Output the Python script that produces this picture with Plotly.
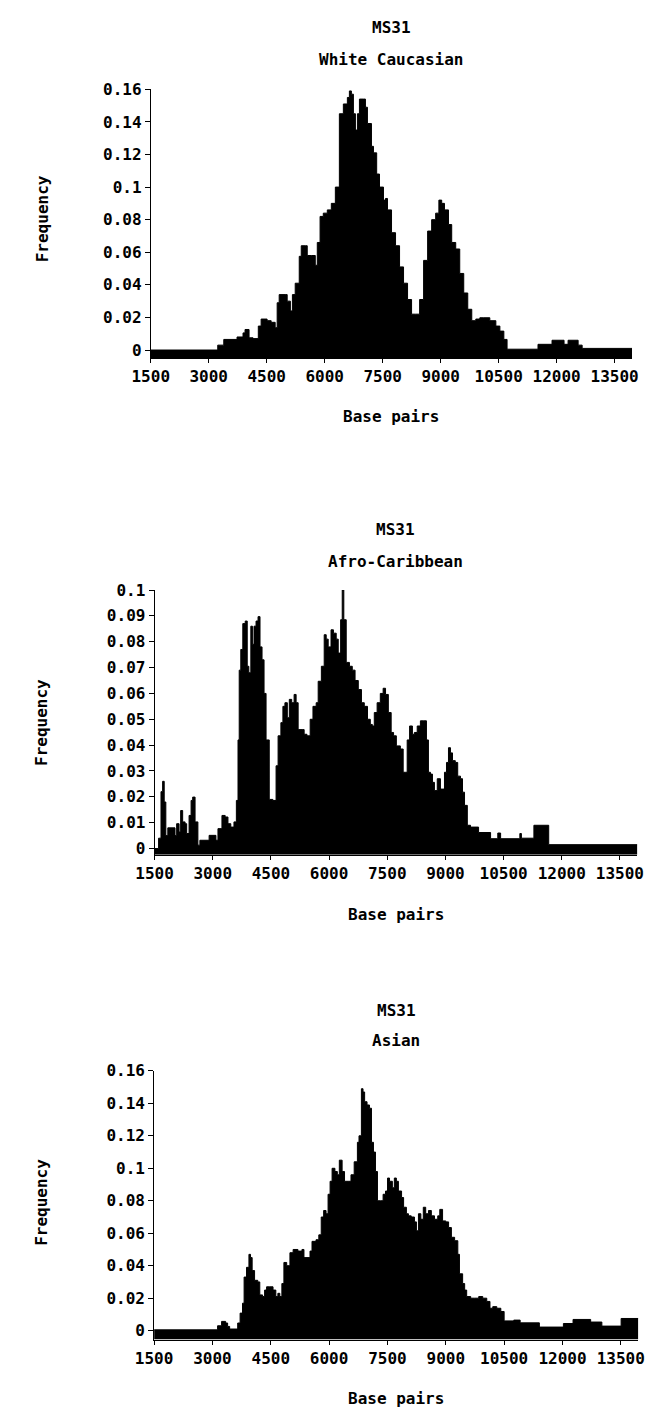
import plotly.graph_objects as go

# ---------------- data ----------------
x_ticks = [1500, 3000, 4500, 6000, 7500, 9000, 10500, 12000, 13500]
x_tick_labels = ["1500", "3000", "4500", "6000", "7500", "9000", "10500", "12000", "13500"]

titles = ["White Caucasian", "Afro-Caribbean", "Asian"]

wc_bp = [1500, 3233, 3389, 3732, 3887, 3939, 4043, 4147, 4282, 4355, 4510, 4614, 4718, 4770,
         4822, 4977, 5029, 5112, 5164, 5237, 5341, 5393, 5496, 5548, 5652, 5756, 5808, 5880,
         5963, 6067, 6171, 6275, 6379, 6482, 6586, 6638, 6690, 6742, 6794, 6846, 6898, 7001,
         7053, 7105, 7209, 7261, 7344, 7417, 7520, 7572, 7624, 7728, 7832, 7936, 8039, 8143,
         8247, 8351, 8455, 8558, 8662, 8766, 8870, 8953, 9026, 9098, 9202, 9285, 9389, 9493,
         9596, 9700, 9804, 9908, 10012, 10115, 10271, 10427, 10531, 10634, 10717, 11517,
         11880, 12191, 12295, 12555, 12659, 13950]
wc_freq = [0, 0.003, 0.0065, 0.008, 0.0105, 0.0126, 0.0075, 0.007, 0.0147, 0.019, 0.018, 0.017,
           0.0137, 0.029, 0.034, 0.034, 0.030, 0.024, 0.034, 0.041, 0.0575, 0.064, 0.064, 0.058,
           0.058, 0.052, 0.066, 0.082, 0.084, 0.086, 0.090, 0.100, 0.145, 0.151, 0.155, 0.159,
           0.157, 0.145, 0.135, 0.145, 0.154, 0.154, 0.149, 0.139, 0.125, 0.121, 0.108, 0.100,
           0.092, 0.093, 0.086, 0.072, 0.064, 0.051, 0.041, 0.031, 0.022, 0.022, 0.031, 0.055,
           0.073, 0.080, 0.084, 0.092, 0.090, 0.086, 0.077, 0.066, 0.062, 0.047, 0.035, 0.025,
           0.018, 0.019, 0.0198, 0.0198, 0.018, 0.0147, 0.0116, 0.0065, 0.0005, 0.0035, 0.006,
           0.0035, 0.006, 0.003, 0.001, 0.001]

ac_bp = [1500, 1603, 1665, 1707, 1748, 1790, 1841, 2027, 2069, 2131, 2172, 2224, 2286, 2327,
         2389, 2441, 2482, 2544, 2617, 2668, 2906, 3082, 3134, 3237, 3320, 3392, 3465, 3547,
         3609, 3651, 3682, 3723, 3775, 3837, 3889, 3930, 3982, 4023, 4064, 4116, 4168, 4219,
         4271, 4323, 4375, 4457, 4550, 4633, 4685, 4757, 4809, 4861, 4923, 4974, 5036, 5098,
         5150, 5202, 5305, 5357, 5429, 5512, 5584, 5667, 5719, 5801, 5874, 5926, 5977, 6050,
         6112, 6184, 6236, 6298, 6339, 6380, 6442, 6525, 6598, 6670, 6753, 6835, 6908, 6991,
         7063, 7115, 7166, 7239, 7321, 7394, 7456, 7528, 7601, 7663, 7735, 7838, 7911, 7973,
         8014, 8076, 8149, 8200, 8273, 8355, 8428, 8511, 8562, 8614, 8666, 8717, 8790, 8872,
         8924, 8976, 9028, 9079, 9131, 9183, 9255, 9317, 9389, 9441, 9493, 9565, 9648, 9855,
         10165, 10351, 10424, 10920, 10960, 11282, 11664, 13950]
ac_freq = [0, 0.004, 0.022, 0.026, 0.018, 0.005, 0.008, 0.005, 0.0096, 0.0064, 0.0147, 0.0103,
           0.0096, 0.0058, 0.0128, 0.0186, 0.0199, 0.0103, 0.0013, 0.0032, 0.0051, 0.0032,
           0.0077, 0.0128, 0.0122, 0.0096, 0.0083, 0.0103, 0.0186, 0.042, 0.069, 0.077, 0.087,
           0.088, 0.0705, 0.068, 0.086, 0.079, 0.086, 0.088, 0.0897, 0.078, 0.073, 0.060, 0.042,
           0.019, 0.0186, 0.032, 0.0436, 0.0487, 0.055, 0.0564, 0.0506, 0.0577, 0.0564, 0.0596,
           0.0564, 0.046, 0.046, 0.0442, 0.0436, 0.050, 0.055, 0.0564, 0.0647, 0.0705, 0.0827,
           0.081, 0.078, 0.0846, 0.0833, 0.081, 0.0756, 0.0885, 0.100, 0.0885, 0.072, 0.0705,
           0.069, 0.065, 0.0615, 0.0564, 0.055, 0.050, 0.048, 0.0474, 0.0526, 0.0564, 0.060,
           0.062, 0.0596, 0.0526, 0.0449, 0.0436, 0.0397, 0.0385, 0.0295, 0.0295, 0.042, 0.0474,
           0.0442, 0.0449, 0.0474, 0.0494, 0.0494, 0.042, 0.0295, 0.0288, 0.0256, 0.0224, 0.027,
           0.023, 0.023, 0.0295, 0.0333, 0.039, 0.037, 0.034, 0.0333, 0.028, 0.027, 0.0218,
           0.0167, 0.009, 0.0083, 0.0062, 0.0038, 0.006, 0.0038, 0.0058, 0.004, 0.009, 0.0015,
           0.0015]

as_bp = [1500, 3132, 3235, 3339, 3390, 3442, 3649, 3711, 3773, 3814, 3876, 3938, 3979, 4021,
         4083, 4165, 4217, 4289, 4341, 4392, 4475, 4558, 4630, 4682, 4733, 4785, 4837, 4909,
         4992, 5074, 5198, 5301, 5353, 5405, 5508, 5560, 5663, 5735, 5797, 5859, 5921, 5973,
         6025, 6076, 6149, 6211, 6262, 6334, 6396, 6489, 6562, 6644, 6727, 6768, 6830, 6872,
         6913, 6975, 7037, 7089, 7140, 7192, 7243, 7316, 7388, 7450, 7502, 7553, 7626, 7677,
         7729, 7781, 7863, 7915, 7987, 8039, 8111, 8194, 8245, 8297, 8359, 8421, 8483, 8555,
         8628, 8710, 8793, 8845, 8917, 8999, 9072, 9144, 9227, 9309, 9351, 9433, 9485, 9537,
         9640, 9743, 9847, 9950, 10053, 10136, 10208, 10311, 10415, 10500, 10747, 10912, 11406,
         12024, 12272, 12725, 13013, 13508, 13950]
as_freq = [0.0005, 0.003, 0.0057, 0.0047, 0.0026, 0.001, 0.0047, 0.0108, 0.0169, 0.033, 0.039,
           0.047, 0.045, 0.037, 0.031, 0.030, 0.022, 0.021, 0.025, 0.027, 0.027, 0.025, 0.021,
           0.023, 0.021, 0.029, 0.042, 0.040, 0.048, 0.050, 0.049, 0.050, 0.045, 0.045, 0.049,
           0.055, 0.056, 0.059, 0.070, 0.074, 0.072, 0.084, 0.092, 0.100, 0.098, 0.096, 0.105,
           0.098, 0.092, 0.092, 0.096, 0.104, 0.116, 0.120, 0.149, 0.147, 0.141, 0.139, 0.137,
           0.116, 0.110, 0.098, 0.080, 0.080, 0.084, 0.086, 0.094, 0.092, 0.088, 0.094, 0.092,
           0.086, 0.082, 0.076, 0.072, 0.0707, 0.070, 0.067, 0.0615, 0.072, 0.0686, 0.076, 0.072,
           0.074, 0.0707, 0.0686, 0.0707, 0.0747, 0.0676, 0.067, 0.0635, 0.0575, 0.0554, 0.047,
           0.035, 0.029, 0.025, 0.021, 0.020, 0.020, 0.021, 0.020, 0.018, 0.0138, 0.0148, 0.0138,
           0.0118, 0.006, 0.0065, 0.0048, 0.0022, 0.0044, 0.0069, 0.0053, 0.0028, 0.0075, 0.0075]

y_ticks_a = [0, 0.02, 0.04, 0.06, 0.08, 0.1, 0.12, 0.14, 0.16]
y_labels_a = ["0", "0.02", "0.04", "0.06", "0.08", "0.1", "0.12", "0.14", "0.16"]
y_ticks_b = [0, 0.01, 0.02, 0.03, 0.04, 0.05, 0.06, 0.07, 0.08, 0.09, 0.1]
y_labels_b = ["0", "0.01", "0.02", "0.03", "0.04", "0.05", "0.06", "0.07", "0.08", "0.09", "0.1"]

# ---------------- layout geometry (pixels) ----------------
W, H = 652, 1410
FONT = "DejaVu Sans Mono"
FS = 16

panels = [
    dict(bp=wc_bp, fr=wc_freq, yt=y_ticks_a, yl=y_labels_a, ymin=-0.0049, ymax=0.16,
         xpx=(137, 637.5), ypx=(352, 81), title_y=(19, 51), freq_y=212, base_y=411),
    dict(bp=ac_bp, fr=ac_freq, yt=y_ticks_b, yl=y_labels_b, ymin=-0.0024, ymax=0.1,
         xpx=(141, 643), ypx=(853, 586), title_y=(525, 557), freq_y=720, base_y=913),
    dict(bp=as_bp, fr=as_freq, yt=y_ticks_a, yl=y_labels_a, ymin=-0.0055, ymax=0.16,
         xpx=(140.5, 644), ypx=(1342, 1071), title_y=(1010, 1040), freq_y=1204, base_y=1401),
]

fig = go.Figure()
annotations = []
font_b = dict(family=FONT, size=FS, color="black", weight="bold")

for i, p in enumerate(panels):
    n = "" if i == 0 else str(i + 1)
    xa, ya = "x" + n, "y" + n
    xr = [1500, 13950]
    # baseline at the bottom of the axis
    fig.add_trace(go.Scatter(x=xr, y=[p["ymin"], p["ymin"]], mode="lines",
                             line=dict(width=0, color="black"), xaxis=xa, yaxis=ya,
                             showlegend=False, hoverinfo="skip"))
    fig.add_trace(go.Scatter(x=p["bp"], y=p["fr"], mode="lines", line_shape="hv",
                             line=dict(color="black", width=1), fill="tonexty",
                             fillcolor="black", xaxis=xa, yaxis=ya, showlegend=False))
    xd = [p["xpx"][0] / W, p["xpx"][1] / W]
    yd = [1 - p["ypx"][0] / H, 1 - p["ypx"][1] / H]
    fig.update_layout(**{
        "xaxis" + n: dict(domain=xd, range=xr, anchor=ya, tickvals=x_ticks,
                          ticktext=x_tick_labels, ticks="outside", ticklen=4, tickwidth=1,
                          tickcolor="black", showline=True, linecolor="black", linewidth=1,
                          showgrid=False, zeroline=False, tickfont=font_b),
        "yaxis" + n: dict(domain=yd, range=[p["ymin"], p["ymax"]], anchor=xa,
                          tickvals=p["yt"], ticktext=p["yl"], ticks="outside", ticklen=5,
                          tickwidth=1, tickcolor="black", showline=True, linecolor="black",
                          linewidth=1, showgrid=False, zeroline=False, tickfont=font_b),
    })
    cx = (p["xpx"][0] + p["xpx"][1]) / 2 / W
    annotations += [
        dict(text="MS31", x=cx, y=1 - p["title_y"][0] / H, xref="paper", yref="paper",
             showarrow=False, font=font_b, xanchor="center", yanchor="middle"),
        dict(text=titles[i], x=cx, y=1 - p["title_y"][1] / H, xref="paper", yref="paper",
             showarrow=False, font=font_b, xanchor="center", yanchor="middle"),
        dict(text="Frequency", x=24 / W, y=1 - p["freq_y"] / H, xref="paper", yref="paper",
             showarrow=False, font=font_b, textangle=-90, xanchor="center", yanchor="middle"),
        dict(text="Base pairs", x=cx, y=1 - p["base_y"] / H, xref="paper", yref="paper",
             showarrow=False, font=font_b, xanchor="center", yanchor="middle"),
    ]

fig.update_layout(width=W, height=H, margin=dict(l=0, r=0, t=0, b=0),
                  paper_bgcolor="white", plot_bgcolor="white", annotations=annotations,
                  showlegend=False)

fig.write_html("out.html")
